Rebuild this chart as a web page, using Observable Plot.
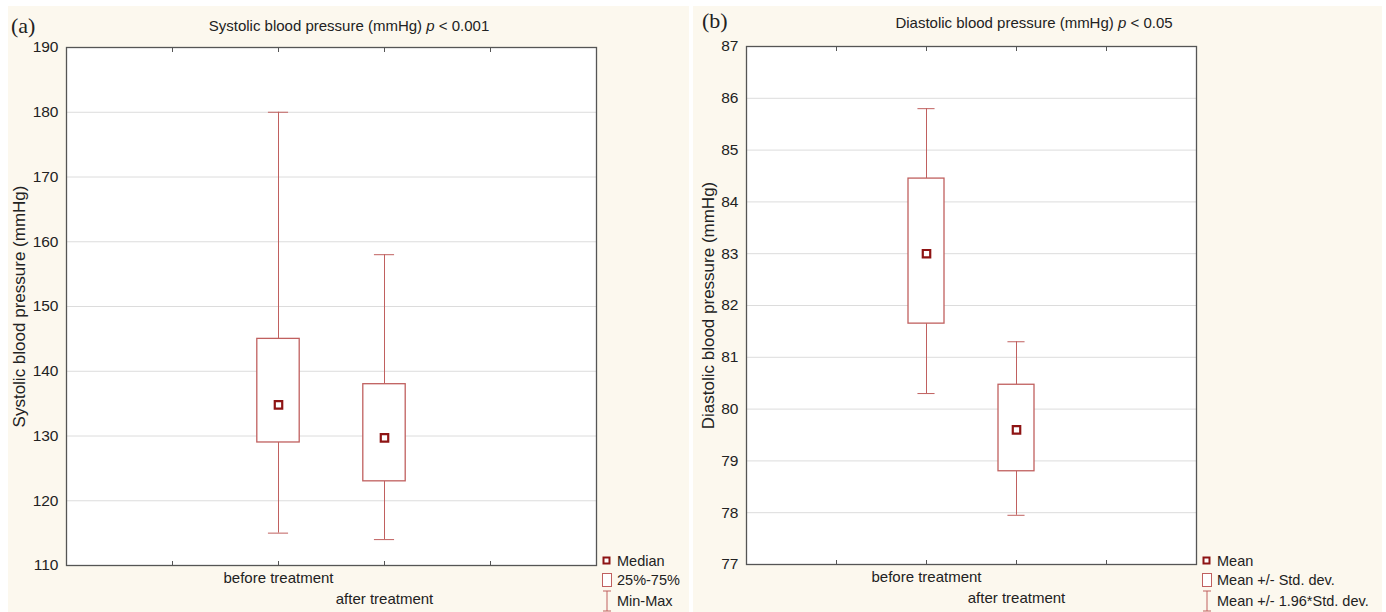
<!DOCTYPE html>
<html><head><meta charset="utf-8">
<script src="https://cdn.jsdelivr.net/npm/d3@7"></script>
<script src="https://cdn.jsdelivr.net/npm/@observablehq/plot@0.6"></script>
<style>
body{margin:0;background:#fff;}
#wrap{position:relative;width:1386px;height:612px;overflow:hidden;background:#fff;font-family:"Liberation Sans",Arial,sans-serif;color:#222;}
.bg{position:absolute;background:#fcf8ee;}
.panel{position:absolute;top:0;}
.title{position:absolute;font-size:15px;white-space:nowrap;transform:translate(-50%,-50%);}
.tag{position:absolute;font-family:"Liberation Serif","Times New Roman",serif;font-size:22px;transform:translateY(-50%);}
.leg{position:absolute;font-size:14.5px;white-space:nowrap;display:flex;align-items:center;}
.leg svg{margin-right:5px;}
</style></head><body><div id="wrap">
<div class="bg" style="left:8px;top:6px;width:681px;height:606px"></div>
<div class="bg" style="left:693px;top:6px;width:689px;height:606px"></div>
<div id="pa" class="panel" style="left:0px"></div>
<div id="pb" class="panel" style="left:690px"></div>
<div class="tag" style="left:11px;top:26px">(a)</div>
<div class="tag" style="left:702px;top:21px">(b)</div>
<div class="title" style="left:349px;top:25px">Systolic blood pressure (mmHg) <i>p</i> &lt; 0.001</div>
<div class="title" style="left:1034px;top:22px">Diastolic blood pressure (mmHg) <i>p</i> &lt; 0.05</div>
<div id="lega"></div><div id="legb"></div>
</div>
<script>
const categories = ["before treatment", "after treatment"];
const positions = [2, 3];
const xTicks = [1, 2, 3, 4];

const sysTicks = [110, 120, 130, 140, 150, 160, 170, 180, 190];
const sysMin = [115, 114];
const sysQ1 = [129, 123];
const sysMedian = [134.8, 129.7];
const sysQ3 = [145, 138];
const sysMax = [180, 158];

const diaTicks = [77, 78, 79, 80, 81, 82, 83, 84, 85, 86, 87];
const diaMean = [83.0, 79.6];
const diaSdLow = [81.65, 78.8];
const diaSdHigh = [84.45, 80.47];
const diaCiLow = [80.3, 77.95];
const diaCiHigh = [85.8, 81.3];

const legendA = ["Median", "25%-75%", "Min-Max"];
const legendB = ["Mean", "Mean +/- Std. dev.", "Mean +/- 1.96*Std. dev."];

const boxColor = "#c0605f", markColor = "#8e1414";
const FONT = '"Liberation Sans",Arial,sans-serif';

function rowsOf(lo, boxLo, mid, boxHi, hi) {
  return categories.map((cat, i) => ({cat, pos: positions[i], lo: lo[i], boxLo: boxLo[i], mid: mid[i], boxHi: boxHi[i], hi: hi[i]}));
}

function panel({width, ml, mr, mt, mb, yDomain, yTicks, label, labelOffset, rows}) {
  const half = 0.2, cap = 0.095;
  return Plot.plot({
    width, height: 612, marginLeft: ml, marginRight: mr, marginTop: mt, marginBottom: mb,
    style: {background: "transparent", fontFamily: FONT, fontSize: "15px", color: "#222", overflow: "visible"},
    x: {domain: [0, 5], axis: null},
    y: {domain: yDomain, axis: null},
    marks: [
      Plot.frame({fill: "white", stroke: null}),
      Plot.gridY(yTicks, {stroke: "#dcdcdc", strokeOpacity: 1}),
      Plot.ruleX(rows, {x: "pos", y1: "lo", y2: "boxLo", stroke: boxColor}),
      Plot.ruleX(rows, {x: "pos", y1: "boxHi", y2: "hi", stroke: boxColor}),
      Plot.ruleY(rows, {y: "lo", x1: d => d.pos - cap, x2: d => d.pos + cap, stroke: boxColor}),
      Plot.ruleY(rows, {y: "hi", x1: d => d.pos - cap, x2: d => d.pos + cap, stroke: boxColor}),
      Plot.rect(rows, {x1: d => d.pos - half, x2: d => d.pos + half, y1: "boxLo", y2: "boxHi", fill: "white", stroke: boxColor, strokeWidth: 1.3}),
      Plot.dot(rows, {x: "pos", y: "mid", symbol: "square", r: 4.2, fill: "white", stroke: markColor, strokeWidth: 2.2}),
      Plot.axisX({anchor: "bottom", ticks: xTicks, tickSize: -4, tickFormat: () => "", label: null, stroke: "#555"}),
      Plot.axisX({anchor: "top", ticks: xTicks, tickSize: -4, tickFormat: () => "", label: null, stroke: "#555"}),
      Plot.frame({stroke: "#555", strokeWidth: 1.3}),
      Plot.axisY({ticks: yTicks, tickSize: 0, tickPadding: 8, label: null, fontSize: 15.5, fill: "#222"}),
      Plot.axisY({ticks: [], tickSize: 0, label, labelAnchor: "center", labelArrow: "none", labelOffset, fontSize: 17, fill: "#222"}),
      Plot.text([rows[0]], {x: "pos", text: "cat", frameAnchor: "bottom", dy: 17, fontSize: 15, fill: "#222"}),
      Plot.text([rows[1]], {x: "pos", text: "cat", frameAnchor: "bottom", dy: 38, fontSize: 15, fill: "#222"})
    ]
  });
}

document.getElementById("pa").append(panel({
  width: 690, ml: 66, mr: 94, mt: 47, mb: 47, yDomain: [110, 190], yTicks: sysTicks,
  label: "Systolic blood pressure (mmHg)", labelOffset: 54,
  rows: rowsOf(sysMin, sysQ1, sysMedian, sysQ3, sysMax)
}));
document.getElementById("pb").append(panel({
  width: 696, ml: 56, mr: 190, mt: 46, mb: 48, yDomain: [77, 87], yTicks: diaTicks,
  label: "Diastolic blood pressure (mmHg)", labelOffset: 45,
  rows: rowsOf(diaCiLow, diaSdLow, diaMean, diaSdHigh, diaCiHigh)
}));

const icons = [
  `<svg width="10" height="12"><rect x="1.5" y="2.5" width="6" height="6" fill="white" stroke="${markColor}" stroke-width="2"/></svg>`,
  `<svg width="10" height="14"><rect x="0.5" y="0.5" width="9" height="13" fill="white" stroke="${boxColor}" stroke-width="1"/></svg>`,
  `<svg width="10" height="22"><line x1="5" y1="1" x2="5" y2="21" stroke="${boxColor}"/><line x1="1" y1="1" x2="9" y2="1" stroke="${boxColor}"/><line x1="1" y1="21" x2="9" y2="21" stroke="${boxColor}"/></svg>`
];
function legend(id, left, labels) {
  const tops = [561, 580, 601];
  const el = document.getElementById(id);
  labels.forEach((t, i) => {
    const d = document.createElement("div");
    d.className = "leg";
    d.style.left = left + "px";
    d.style.top = tops[i] + "px";
    d.style.transform = "translateY(-50%)";
    d.innerHTML = icons[i] + `<span>${t}</span>`;
    el.append(d);
  });
}
legend("lega", 602, legendA);
legend("legb", 1202, legendB);
</script></body></html>
